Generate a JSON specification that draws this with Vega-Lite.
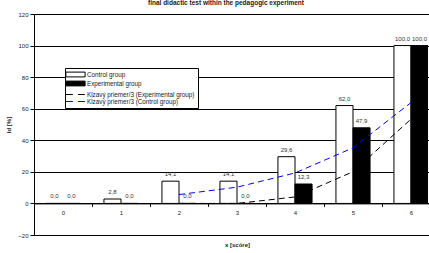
{
  "$schema": "https://vega.github.io/schema/vega-lite/v6.json",
  "width": 394,
  "height": 221,
  "autosize": {"type": "none"},
  "padding": {"left": 34, "top": 14, "right": 1, "bottom": 18},
  "title": {"text": "final didactic test within the pedagogic experiment", "fontSize": 6.5, "fontWeight": "bold", "offset": 5, "dx": -5, "color": "#222"},
  "config": {
    "font": "Liberation Sans",
    "locale": {"number": {"decimal": ",", "thousands": " ", "grouping": [3], "currency": ["", " €"]}},
    "view": {"stroke": null},
    "axis": {"labelFontSize": 6, "labelColor": "#222", "titleFontSize": 6, "titleFontWeight": "bold", "titleColor": "#222", "domainColor": "black", "tickColor": "black"}
  },
  "data": {"values": [
    {"x": 0, "series": "Control group", "value": 0.0, "kind": "bar"},
    {"x": 1, "series": "Control group", "value": 2.8, "kind": "bar"},
    {"x": 2, "series": "Control group", "value": 14.1, "kind": "bar"},
    {"x": 3, "series": "Control group", "value": 14.1, "kind": "bar"},
    {"x": 4, "series": "Control group", "value": 29.6, "kind": "bar"},
    {"x": 5, "series": "Control group", "value": 62.0, "kind": "bar"},
    {"x": 6, "series": "Control group", "value": 100.0, "kind": "bar"},
    {"x": 0, "series": "Experimental group", "value": 0.0, "kind": "bar"},
    {"x": 1, "series": "Experimental group", "value": 0.0, "kind": "bar"},
    {"x": 2, "series": "Experimental group", "value": 0.0, "kind": "bar"},
    {"x": 3, "series": "Experimental group", "value": 0.0, "kind": "bar"},
    {"x": 4, "series": "Experimental group", "value": 12.3, "kind": "bar"},
    {"x": 5, "series": "Experimental group", "value": 47.9, "kind": "bar"},
    {"x": 6, "series": "Experimental group", "value": 100.0, "kind": "bar"},
    {"x": 2, "series": "Kĺzavý priemer/3 (Experimental group)", "value": 0.0, "kind": "ma"},
    {"x": 3, "series": "Kĺzavý priemer/3 (Experimental group)", "value": 0.0, "kind": "ma"},
    {"x": 4, "series": "Kĺzavý priemer/3 (Experimental group)", "value": 4.1, "kind": "ma"},
    {"x": 5, "series": "Kĺzavý priemer/3 (Experimental group)", "value": 20.1, "kind": "ma"},
    {"x": 6, "series": "Kĺzavý priemer/3 (Experimental group)", "value": 53.4, "kind": "ma"},
    {"x": 2, "series": "Kĺzavý priemer/3 (Control group)", "value": 5.6, "kind": "ma"},
    {"x": 3, "series": "Kĺzavý priemer/3 (Control group)", "value": 10.3, "kind": "ma"},
    {"x": 4, "series": "Kĺzavý priemer/3 (Control group)", "value": 19.3, "kind": "ma"},
    {"x": 5, "series": "Kĺzavý priemer/3 (Control group)", "value": 35.2, "kind": "ma"},
    {"x": 6, "series": "Kĺzavý priemer/3 (Control group)", "value": 63.9, "kind": "ma"}
  ]},
  "encoding": {
    "x": {"field": "x", "type": "ordinal", "scale": {"range": [0, 406], "paddingInner": 0, "paddingOuter": 0},
      "axis": {"title": "x [scóre]", "labelAngle": 0, "offset": -31.6, "tickBand": "extent", "tickSize": 3, "labelPadding": 3, "titlePadding": 26}},
    "y": {"field": "value", "type": "quantitative", "scale": {"domain": [-20, 120], "nice": false},
      "axis": {"title": "Id [%]", "values": [-20, 0, 20, 40, 60, 80, 100, 120], "grid": true, "gridColor": "black", "gridOpacity": 1, "tickSize": 4, "labelPadding": 2, "titlePadding": 6}}
  },
  "layer": [
    {
      "transform": [{"filter": "datum.kind === 'bar'"}],
      "mark": {"type": "bar", "stroke": "black", "strokeWidth": 1, "clip": true},
      "encoding": {
        "xOffset": {"field": "series", "type": "nominal", "scale": {"domain": ["Control group", "Experimental group"], "paddingOuter": 0.7, "paddingInner": 0}},
        "fill": {"field": "series", "type": "nominal",
          "scale": {"domain": ["Control group", "Experimental group"], "range": ["white", "black"]},
          "legend": {"title": null, "orient": "none", "legendX": 31, "legendY": 54, "padding": 3, "zindex": 2, "fillColor": "transparent",
            "labelFontSize": 6.3, "labelColor": "#222", "symbolType": "M-3.2,-0.8H3.2V0.8H-3.2Z", "symbolSize": 36, "symbolOffset": 4, "labelOffset": 8, "rowPadding": 0,
            "symbolStrokeColor": "black", "symbolStrokeWidth": 1, "symbolOpacity": 1}
        }
      }
    },
    {
      "transform": [{"filter": "datum.kind === 'bar'"}],
      "mark": {"type": "text", "dy": -4, "baseline": "bottom", "fontSize": 6, "color": "#333"},
      "encoding": {
        "xOffset": {"field": "series", "type": "nominal", "scale": {"domain": ["Control group", "Experimental group"], "paddingOuter": 0.7, "paddingInner": 0}},
        "text": {"field": "value", "type": "quantitative", "format": ".1f"}
      }
    },
    {
      "transform": [{"filter": "datum.kind === 'ma'"}],
      "mark": {"type": "line", "strokeDash": [6, 4], "strokeWidth": 1, "clip": true},
      "encoding": {
        "stroke": {"field": "series", "type": "nominal",
          "scale": {"domain": ["Kĺzavý priemer/3 (Experimental group)", "Kĺzavý priemer/3 (Control group)"], "range": ["black", "blue"]},
          "legend": {"title": " ", "titleFontSize": 8, "titlePadding": 12, "orient": "none", "legendX": 31, "legendY": 54, "padding": 3, "zindex": 1,
            "strokeColor": "black", "fillColor": "white",
            "labelFontSize": 6.3, "labelColor": "#222", "symbolType": "M-3.2,0H3.2", "symbolSize": 36, "symbolOffset": 4, "labelOffset": 8, "rowPadding": 0,
            "symbolDash": [7, 5], "symbolStrokeWidth": 1, "symbolOpacity": 1}
        },
        "detail": {"field": "series", "type": "nominal"}
      }
    }
  ]
}
